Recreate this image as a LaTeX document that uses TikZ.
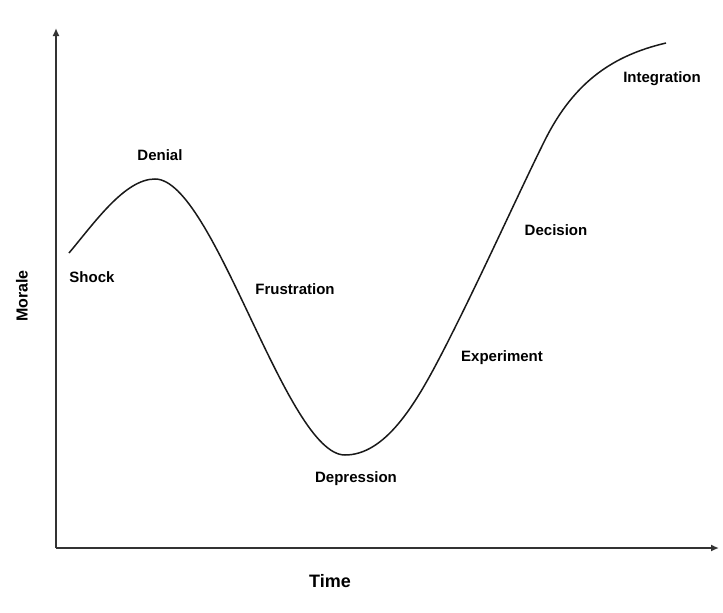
\documentclass[tikz,border=0pt]{standalone}
\usepackage{fontspec}
\setmainfont{Liberation Sans}
\usetikzlibrary{arrows.meta}

\begin{document}
\begin{tikzpicture}[x=1pt,y=-1pt,
  stage/.style={font=\bfseries\fontsize{15}{18}\selectfont,inner sep=0pt},
  axislabel/.style={font=\bfseries\fontsize{18}{21}\selectfont,inner sep=0pt}]
\useasboundingbox (0,0) rectangle (723,613);
% Axes
\coordinate (o) at (56,548);
\coordinate (ytop) at (56,28);
\coordinate (xend) at (719,548);
\draw[line width=1.8pt,black!80,-{Latex[length=8pt,width=7pt]}] (o) -- (ytop);
\draw[line width=1.8pt,black!80,-{Latex[length=8pt,width=7pt]}] (o) -- (xend);
\node[axislabel,rotate=90,font=\bfseries\fontsize{16}{19}\selectfont] (morale) at (22,296) {Morale};
\node[axislabel] (time) at (330,581) {Time};
% Change curve
\coordinate (start) at (69,253);
\coordinate (peak) at (155,179);
\coordinate (low) at (345,455);
\coordinate (climb) at (440,357);
\coordinate (bend) at (545,140);
\coordinate (top) at (666,43);
\draw[line width=1.5pt,black!90]
  (start) .. controls (95,222) and (125,179) .. (peak)
  .. controls (214,179) and (286,455) .. (low)
  .. controls (385,455) and (415,405) .. (climb)
  .. controls (475,290) and (520,190) .. (bend)
  .. controls (575,80) and (615,55) .. (top);
% Stages
\node[stage] (shock) at (92,277) {Shock};
\node[stage] (denial) at (160,155) {Denial};
\node[stage] (frustration) at (295,289) {Frustration};
\node[stage] (depression) at (356,479) {Depression};
\node[stage] (experiment) at (502,358) {Experiment};
\node[stage] (decision) at (556,230) {Decision};
\node[stage] (integration) at (662,79) {Integration};
\end{tikzpicture}
\end{document}
